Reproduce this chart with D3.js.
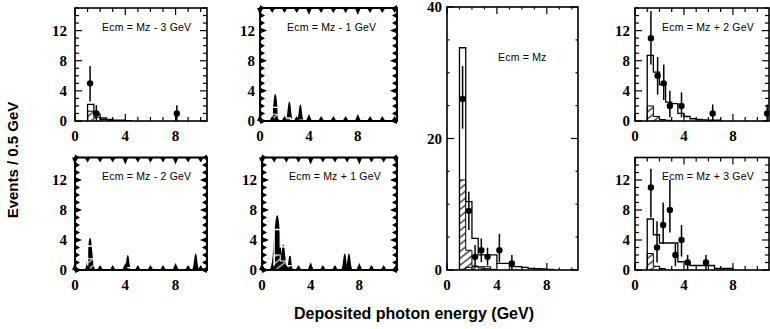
<!DOCTYPE html>
<html>
<head>
<meta charset="utf-8">
<script src="https://cdn.jsdelivr.net/npm/d3@7"></script>
<style>
  body { margin: 0; background: #fff; }
  svg { display: block; }
  .num { font-family: "Liberation Serif", "Times New Roman", serif; font-weight: bold; font-size: 15px; }
  .ecm { font-family: "Liberation Sans", Arial, sans-serif; font-size: 10.5px; letter-spacing: 0.2px; }
  .title { font-family: "Liberation Sans", Arial, sans-serif; font-weight: bold; }
</style>
</head>
<body>
<svg id="chart" width="770" height="329"></svg>
<script>
// bins are 0.5 GeV wide, first bin starts at 1 GeV
const binStart = 1.0;
const binWidth = 0.5;

// Ecm = Mz - 3 GeV
const mcM3 = [2.2, 0.9, 0.4, 0.2, 0.1, 0.1, 0.05];
const bgM3 = [1.3, 0.5, 0.2, 0.1];
const dataM3 = [[1.2, 5, 2.6, 7.3], [1.7, 1, 0, 2.1], [8.1, 1, 0, 2.1]];

// Ecm = Mz - 1 GeV (smeared print)
const mcM1 = [1.8, 0.6, 0.4, 0.2, 0.1];
const bgM1 = [0.9, 0.3, 0.1];
const spikesM1 = [[1.25, 3.6], [2.4, 2.6], [3.3, 2.2]];

// Ecm = Mz
const mcZ = [33.8, 10.4, 4.8, 2.3, 2.3, 2.3, 1.0, 1.0, 0.5, 0.5, 0.4, 0.25, 0.2, 0.15, 0.1];
const bgZ = [13.7, 3.0, 0.6, 0.3, 0.2, 0.1];
const compZ = [0.1, 0.4, 0.5, 0.5, 0.5];
const dataZ = [[1.25, 26, 21.5, 31], [1.75, 9, 6.1, 11.9], [2.25, 2, 0.5, 3.8], [2.75, 3, 1.2, 4.8],
               [3.25, 2, 0.7, 3.4], [4.2, 3, 1.2, 5.5], [5.2, 1, 0, 2.3]];

// Ecm = Mz + 2 GeV
const mcP2 = [8.7, 6.5, 4.8, 2.5, 2.3, 1.0, 0.6, 0.3, 0.2, 0.15, 0.1, 0.1];
const bgP2 = [2.0, 0.6, 0.2, 0.1];
const dataP2 = [[1.3, 11, 7.5, 14.6], [1.85, 6, 3.5, 8.5], [2.35, 5, 2.8, 7.5], [2.85, 2, 0.5, 4.0],
                [3.8, 2, 0.5, 3.8], [6.35, 1, 0, 2.2], [10.8, 1, 0, 2.2]];

// Ecm = Mz - 2 GeV (smeared print)
const mcM2 = [3.2, 1.4, 0.5, 0.45, 0.45, 0.4, 0.3, 0.15, 0.1];
const bgM2 = [1.5, 0.6, 0.2, 0.1];
const spikesM2 = [[1.2, 4.3], [4.2, 2.0], [9.6, 2.2]];

// Ecm = Mz + 1 GeV (smeared print)
const mcP1 = [5.4, 3.1, 2.0, 0.8, 0.8, 0.8, 0.4, 0.3, 0.2, 0.1];
const bgP1 = [2.0, 1.2, 0.6, 0.3, 0.1];
const spikesP1 = [[1.25, 7.3], [1.75, 3.4], [2.3, 2.0], [4.0, 1.0], [6.8, 2.2], [7.15, 2.2]];

// Ecm = Mz + 3 GeV
const mcP3 = [6.8, 4.7, 3.6, 3.6, 3.6, 1.1, 1.1, 0.6, 0.6, 0.6, 0.6, 0.2, 0.2, 0.2];
const bgP3 = [2.2, 0.5, 0.2];
const dataP3 = [[1.3, 11, 7, 13.5], [1.8, 3, 1, 6.5], [2.3, 6, 3.5, 9], [2.85, 8, 5, 12],
                [3.3, 2, 0.5, 3.5], [3.8, 4, 1.8, 6], [4.3, 1, 0, 2], [5.8, 1, 0, 2]];

const xTickLabels = [0, 4, 8];
const yTickSmall = [0, 4, 8, 12];
const yTickBig = [0, 20, 40];

const panels = [
  { label: 'Ecm = Mz - 3 GeV', mc: mcM3, bg: bgM3, pts: dataM3, left: 75, top: 8, w: 132, h: 113, xMax: 10.5, yMax: 15, gap: 8 },
  { label: 'Ecm = Mz - 1 GeV', mc: mcM1, bg: bgM1, spikes: spikesM1, left: 260, top: 8, w: 137, h: 113, xMax: 11.2, yMax: 15, gap: 5 },
  { label: 'Ecm = Mz', mc: mcZ, bg: bgZ, comp: compZ, pts: dataZ, left: 447, top: 7, w: 131, h: 263, xMax: 10.5, yMax: 40, gap: 5, big: true },
  { label: 'Ecm = Mz + 2 GeV', mc: mcP2, bg: bgP2, pts: dataP2, left: 635, top: 8, w: 134, h: 113, xMax: 10.95, yMax: 15, gap: 5 },
  { label: 'Ecm = Mz - 2 GeV', mc: mcM2, bg: bgM2, spikes: spikesM2, left: 75, top: 157.5, w: 132, h: 112.5, xMax: 10.5, yMax: 15, gap: 8 },
  { label: 'Ecm = Mz + 1 GeV', mc: mcP1, bg: bgP1, spikes: spikesP1, left: 262, top: 157.5, w: 135, h: 112.5, xMax: 11.1, yMax: 15, gap: 5 },
  { label: 'Ecm = Mz + 3 GeV', mc: mcP3, bg: bgP3, pts: dataP3, left: 635, top: 157.5, w: 134, h: 112.5, xMax: 10.95, yMax: 15, gap: 5 }
];

const svg = d3.select('#chart');
const defs = svg.append('defs');

function addHatch(id, color) {
  const pat = defs.append('pattern')
    .attr('id', id)
    .attr('patternUnits', 'userSpaceOnUse')
    .attr('width', 6).attr('height', 5.5)
    .attr('patternTransform', 'rotate(-38)');
  pat.append('line')
    .attr('x1', 0).attr('x2', 6).attr('y1', 2.75).attr('y2', 2.75)
    .attr('stroke', color).attr('stroke-width', 1.1);
}
addHatch('hatch', '#000');
addHatch('hatchW', '#fff');

function stepPoints(vals) {
  const pts = [[binStart, 0]];
  vals.forEach((v, i) => pts.push([binStart + i * binWidth, v]));
  pts.push([binStart + vals.length * binWidth, 0]);
  return pts;
}

function drawPanel(p, idx) {
  const x = d3.scaleLinear().domain([0, p.xMax]).range([p.left, p.left + p.w]);
  const y = d3.scaleLinear().domain([0, p.yMax]).range([p.top + p.h, p.top]);
  const smeared = !!p.spikes;
  const g = svg.append('g');

  defs.append('clipPath').attr('id', 'clip' + idx)
    .append('rect').attr('x', p.left).attr('y', p.top).attr('width', p.w).attr('height', p.h);
  const plot = g.append('g').attr('clip-path', 'url(#clip' + idx + ')');

  const step = d3.line().x(d => x(d[0])).y(d => y(d[1])).curve(d3.curveStepAfter);

  // smeared data (black bell-shaped blobs)
  if (smeared) {
    plot.selectAll('path.spike').data(p.spikes).enter().append('path')
      .attr('class', 'spike')
      .attr('fill', '#000')
      .attr('d', d => {
        const cx = x(d[0]), y0 = y(0), yh = y(d[1]);
        const hw = 2.5 + 0.8 * d[1];
        const pa = d3.path();
        pa.moveTo(cx - hw, y0);
        pa.bezierCurveTo(cx - hw * 0.35, y0, cx - hw * 0.4, yh, cx, yh);
        pa.bezierCurveTo(cx + hw * 0.4, yh, cx + hw * 0.35, y0, cx + hw, y0);
        pa.closePath();
        return pa.toString();
      });
  }

  const hist = plot.append('g');
  if (smeared) hist.style('mix-blend-mode', 'difference');
  const ink = smeared ? '#fff' : '#000';

  // background (hatched)
  hist.append('path')
    .attr('d', step(stepPoints(p.bg)))
    .attr('fill', smeared ? 'url(#hatchW)' : 'url(#hatch)')
    .attr('stroke', ink).attr('stroke-width', 1);

  // second component
  if (p.comp) {
    hist.append('path')
      .attr('d', step(stepPoints(p.comp)))
      .attr('fill', 'none').attr('stroke', ink).attr('stroke-width', 1);
  }

  // total expectation
  hist.append('path')
    .attr('d', step(stepPoints(p.mc)))
    .attr('fill', 'none').attr('stroke', ink).attr('stroke-width', 1.3);

  // data points with errors
  if (p.pts) {
    plot.selectAll('line.err').data(p.pts).enter().append('line')
      .attr('x1', d => x(d[0])).attr('x2', d => x(d[0]))
      .attr('y1', d => y(d[2])).attr('y2', d => y(d[3]))
      .attr('stroke', '#000').attr('stroke-width', 1.5);
    plot.selectAll('circle.pt').data(p.pts).enter().append('circle')
      .attr('cx', d => x(d[0])).attr('cy', d => y(d[1])).attr('r', 3.2)
      .attr('fill', '#000');
  }

  // ticks on all four sides, pointing inward
  const xt = d3.range(0, Math.floor(p.xMax) + 1, 1);
  const yStepMinor = p.big ? 5 : 1;
  const yt = d3.range(0, p.yMax + 0.001, yStepMinor);
  const isMajorX = v => v % 4 === 0;
  const isMajorY = v => p.big ? v % 20 === 0 : v % 4 === 0;
  const tickG = g.append('g');
  const L = (maj) => maj ? 7 : (p.big ? 2.5 : 4);

  if (smeared) {
    const tri = (px, py, dx, dy, len) => {
      const half = 3;
      return `M${px - half * Math.abs(dy)},${py - half * Math.abs(dx)}L${px + dx * len},${py + dy * len}L${px + half * Math.abs(dy)},${py + half * Math.abs(dx)}Z`;
    };
    xt.forEach(v => {
      const len = isMajorX(v) ? 7 : 5;
      tickG.append('path').attr('d', tri(x(v), y(0), 0, -1, len)).attr('fill', '#000');
      tickG.append('path').attr('d', tri(x(v), y(p.yMax), 0, 1, len)).attr('fill', '#000');
    });
    yt.forEach(v => {
      const len = isMajorY(v) ? 7 : 5;
      tickG.append('path').attr('d', tri(x(0), y(v), 1, 0, len)).attr('fill', '#000');
      tickG.append('path').attr('d', tri(x(p.xMax), y(v), -1, 0, len)).attr('fill', '#000');
    });
  } else {
    xt.forEach(v => {
      const len = L(isMajorX(v));
      tickG.append('line').attr('x1', x(v)).attr('x2', x(v)).attr('y1', y(0)).attr('y2', y(0) - len);
      tickG.append('line').attr('x1', x(v)).attr('x2', x(v)).attr('y1', y(p.yMax)).attr('y2', y(p.yMax) + len);
    });
    yt.forEach(v => {
      const len = L(isMajorY(v));
      tickG.append('line').attr('x1', x(0)).attr('x2', x(0) + len).attr('y1', y(v)).attr('y2', y(v));
      tickG.append('line').attr('x1', x(p.xMax)).attr('x2', x(p.xMax) - len).attr('y1', y(v)).attr('y2', y(v));
    });
    tickG.selectAll('line').attr('stroke', '#000').attr('stroke-width', 1.2);
  }

  // frame
  g.append('rect')
    .attr('x', p.left).attr('y', p.top).attr('width', p.w).attr('height', p.h)
    .attr('fill', 'none').attr('stroke', '#000').attr('stroke-width', smeared ? 2 : 1.6);

  // tick labels
  g.selectAll('text.xl').data(xTickLabels).enter().append('text')
    .attr('class', 'num')
    .attr('x', d => x(d)).attr('y', y(0) + 20)
    .attr('text-anchor', 'middle')
    .text(d => d);
  g.selectAll('text.yl').data(p.big ? yTickBig : yTickSmall).enter().append('text')
    .attr('class', 'num')
    .attr('x', p.left - p.gap).attr('y', d => y(d))
    .attr('dy', '0.35em')
    .attr('text-anchor', 'end')
    .text(d => d);

  // energy label
  g.append('text')
    .attr('class', 'ecm')
    .attr('x', p.left + (p.big ? 51 : 27))
    .attr('y', p.top + (p.big ? 54 : 22.5))
    .text(p.label);
}

panels.forEach(drawPanel);

svg.append('text')
  .attr('class', 'title')
  .attr('transform', 'translate(18,160) rotate(-90)')
  .attr('text-anchor', 'middle')
  .style('font-size', '15px')
  .text('Events / 0.5 GeV');

svg.append('text')
  .attr('class', 'title')
  .attr('x', 414).attr('y', 319)
  .attr('text-anchor', 'middle')
  .style('font-size', '16px')
  .text('Deposited photon energy (GeV)');
</script>
</body>
</html>
